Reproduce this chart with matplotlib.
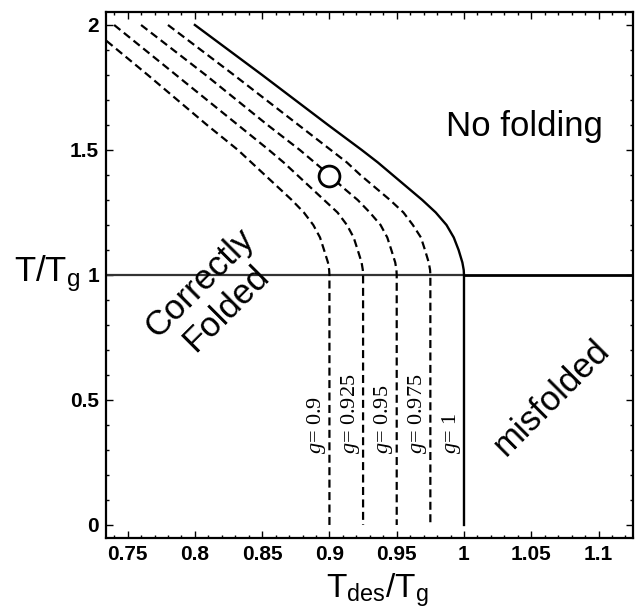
import numpy as np
import matplotlib.pyplot as plt
from matplotlib.ticker import MultipleLocator, FixedLocator, FixedFormatter

plt.rcParams['font.family'] = ['Liberation Sans', 'DejaVu Sans']
plt.rcParams['mathtext.fontset'] = 'custom'
plt.rcParams['mathtext.rm'] = 'Liberation Sans'
plt.rcParams['mathtext.it'] = 'Liberation Serif:italic'

# T/Tg levels along each curve (down to the glass line, then straight to 0)
T_levels = [2.0, 1.8, 1.6, 1.5, 1.45, 1.4, 1.35, 1.3, 1.25, 1.2, 1.15, 1.1, 1.05, 1.02, 1.0, 0.0]

# Tdes/Tg at those levels
x_g100 = [0.800, 0.850, 0.899, 0.924, 0.936, 0.947, 0.958, 0.969, 0.979, 0.987, 0.9924, 0.996, 0.9988, 0.9998, 1.000, 1.000]
x_g975 = [0.780, 0.829, 0.877, 0.901, 0.913, 0.923, 0.934, 0.945, 0.955, 0.962, 0.968, 0.971, 0.9738, 0.9748, 0.975, 0.975]
x_g950 = [0.760, 0.808, 0.854, 0.878, 0.889, 0.900, 0.910, 0.921, 0.930, 0.938, 0.943, 0.946, 0.9489, 0.9498, 0.950, 0.950]
x_g925 = [0.740, 0.786, 0.832, 0.855, 0.866, 0.876, 0.886, 0.896, 0.906, 0.913, 0.918, 0.921, 0.9239, 0.9248, 0.925, 0.925]
x_g900 = [0.720, 0.765, 0.809, 0.832, 0.842, 0.852, 0.862, 0.872, 0.881, 0.888, 0.893, 0.896, 0.8989, 0.8998, 0.900, 0.900]

g_values = [0.9, 0.925, 0.95, 0.975, 1.0]
g_labels = ['0.9', '0.925', '0.95', '0.975', '1']

# open circle marker
circle_x = [0.9]
circle_T = [1.396]

x_ticks = [0.75, 0.8, 0.85, 0.9, 0.95, 1.0, 1.05, 1.1]
x_ticklabels = ['0.75', '0.8', '0.85', '0.9', '0.95', '1', '1.05', '1.1']
y_ticks = [0, 0.5, 1.0, 1.5, 2.0]
y_ticklabels = ['0', '0.5', '1', '1.5', '2']

fig = plt.figure(figsize=(6.39, 6.11), dpi=100)
ax = fig.add_axes([0.166, 0.1195, 0.8246, 0.8609])

xmin, xmax = 0.734, 1.1256
ymin, ymax = -0.052, 2.052

# glass line T = Tg
ax.plot([xmin, 1.0], [1.0, 1.0], color='0.2', lw=1.6, zorder=2)
ax.plot([1.0, xmax], [1.0, 1.0], color='k', lw=2.0, zorder=2)

dash = (0, (3.6, 2.0))
for xs in [x_g900, x_g925, x_g950, x_g975]:
    ax.plot(xs, T_levels, color='k', lw=1.6, linestyle=dash, zorder=3)
ax.plot(x_g100, T_levels, color='k', lw=1.7, zorder=3)

ax.plot(circle_x, circle_T, 'o', ms=15, mfc='white', mec='k', mew=2.0, zorder=4)

for g, lab in zip(g_values, g_labels):
    ax.text(g - 0.0095, 0.285, r'$\mathit{g}$= ' + lab, rotation=90,
            ha='center', va='bottom', fontsize=16, family='Liberation Serif')

ax.text(1.045, 1.592, 'No folding', fontsize=25, ha='center', va='center')
ax.text(0.8135, 0.916, 'Correctly\nFolded', fontsize=25, ha='center', va='center',
        rotation=45, linespacing=1.15)
ax.text(1.065, 0.508, 'misfolded', fontsize=25, ha='center', va='center', rotation=45)

ax.set_xlim(xmin, xmax)
ax.set_ylim(ymin, ymax)

ax.xaxis.set_major_locator(FixedLocator(x_ticks))
ax.xaxis.set_major_formatter(FixedFormatter(x_ticklabels))
ax.xaxis.set_minor_locator(MultipleLocator(0.01))
ax.yaxis.set_major_locator(FixedLocator(y_ticks))
ax.yaxis.set_major_formatter(FixedFormatter(y_ticklabels))
ax.yaxis.set_minor_locator(MultipleLocator(0.1))

ax.tick_params(which='both', direction='in', top=True, right=True, width=1.0)
ax.tick_params(which='major', length=5, labelsize=15, pad=5)
ax.tick_params(which='minor', length=2.5)
for lab in ax.get_xticklabels() + ax.get_yticklabels():
    lab.set_fontweight('bold')

for sp in ax.spines.values():
    sp.set_linewidth(1.6)

ax.set_xlabel(r'T$_{\mathrm{des}}$/T$_{\mathrm{g}}$', fontsize=24, labelpad=0)
ax.xaxis.set_label_coords(0.514, -0.063, transform=ax.transAxes)
ax.xaxis.label.set_va('top')
ax.set_ylabel(r'T/T$_{\mathrm{g}}$', fontsize=25, rotation=0, ha='center', va='center')
ax.yaxis.set_label_coords(-0.112, 0.502)

fig.savefig('out.png', dpi=100)
